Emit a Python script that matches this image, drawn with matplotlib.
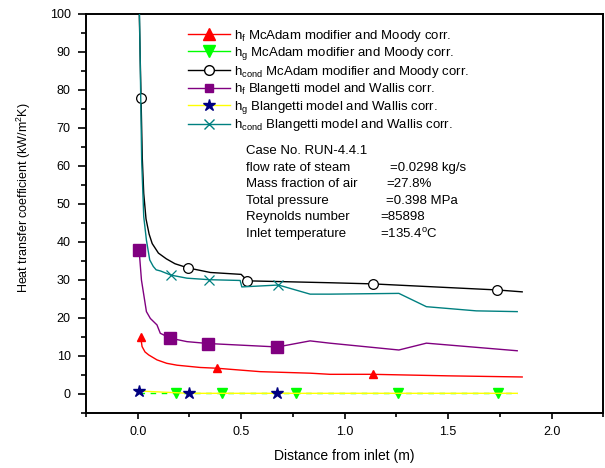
import matplotlib
matplotlib.use('Agg')
import matplotlib.pyplot as plt
from matplotlib.lines import Line2D
from matplotlib.ticker import MultipleLocator, FormatStrFormatter

plt.rcParams['font.family'] = ['Liberation Sans', 'DejaVu Sans']
plt.rcParams['mathtext.fontset'] = 'custom'
plt.rcParams['mathtext.rm'] = 'Liberation Sans'
plt.rcParams['mathtext.it'] = 'Liberation Sans:italic'

# ---------------- data ----------------
hf_mc_x = [0.0145, 0.021, 0.035, 0.053, 0.093, 0.14, 0.19, 0.302, 0.383, 0.592, 0.833, 0.929, 1.135, 1.5, 1.858]
hf_mc_y = [14.8, 12.4, 11.0, 10.2, 8.9, 8.0, 7.5, 6.9, 6.7, 5.8, 5.4, 5.1, 5.1, 4.7, 4.4]
hf_mc_marks = [0, 8, 12]

hg_mc_x = [0.007, 0.187, 0.407, 0.766, 1.26, 1.742, 1.834]
hg_mc_y = [0.2, 0.2, 0.2, 0.2, 0.2, 0.2, 0.2]
hg_mc_marks = [1, 2, 3, 4, 5]

hc_mc_x = [0.0075, 0.016, 0.022, 0.029, 0.04, 0.055, 0.07, 0.1, 0.138, 0.18, 0.243, 0.351, 0.5, 0.53, 0.929, 1.135, 1.738, 1.858]
hc_mc_y = [100, 77.9, 62, 52.7, 46, 42, 39.5, 37, 35.5, 34.2, 33.1, 31.9, 31.4, 29.7, 29.2, 28.9, 27.3, 26.8]
hc_mc_marks = [1, 10, 13, 15, 16]

hf_bl_x = [0.0067, 0.018, 0.042, 0.061, 0.093, 0.109, 0.158, 0.238, 0.342, 0.675, 0.833, 0.928, 1.262, 1.395, 1.834]
hf_bl_y = [37.8, 29.9, 21.6, 19.8, 18.1, 15.9, 14.6, 13.7, 13.2, 12.3, 13.9, 13.3, 11.5, 13.3, 11.3]
hf_bl_marks = [0, 6, 8, 9]

hg_bl_x = [0.007, 0.249, 0.675, 1.0, 1.834]
hg_bl_y = [0.7, 0.1, 0.1, 0.1, 0.1]
hg_bl_marks = [0, 1, 2]

hc_bl_x = [0.0085, 0.019, 0.029, 0.042, 0.058, 0.075, 0.089, 0.11, 0.161, 0.238, 0.346, 0.495, 0.503, 0.68, 0.833, 0.929, 1.262, 1.395, 1.636, 1.834]
hc_bl_y = [100, 61.5, 46.6, 40.4, 35.2, 33.5, 32.6, 32.3, 31.2, 30.4, 30.0, 29.8, 28.1, 28.6, 26.2, 26.2, 26.4, 22.9, 21.8, 21.6]
hc_bl_marks = [8, 10, 13]

labels = [
    r'h$_\mathregular{f}$ McAdam modifier and Moody corr.',
    r'h$_\mathregular{g}$ McAdam modifier and Moody corr.',
    r'h$_\mathregular{cond}$ McAdam modifier and Moody corr.',
    r'h$_\mathregular{f}$ Blangetti model and Wallis corr.',
    r'h$_\mathregular{g}$ Blangetti model and Wallis corr.',
    r'h$_\mathregular{cond}$ Blangetti model and Wallis corr.',
]

info_left = ['Case No. RUN-4.4.1', 'flow rate of steam', 'Mass fraction of air',
             'Total pressure', 'Reynolds number', 'Inlet temperature']
info_right = ['', '=0.0298 kg/s', '=27.8%', '=0.398 MPa', '=85898', r'=135.4$^\mathregular{o}$C']

# ---------------- figure ----------------
W, H = 605, 468
fig = plt.figure(figsize=(W / 100, H / 100), dpi=100)
L, R, T, B = 86, 603.3, 13.7, 412.7
ax = fig.add_axes([L / W, 1 - B / H, (R - L) / W, (B - T) / H])

red, green, black, purple, yellow, teal, navy = '#FF0000', '#00FF00', '#000000', '#800080', '#FFFF00', '#008080', '#000080'

ax.plot(hg_bl_x, hg_bl_y, color=yellow, lw=1.0, marker='*', ms=9, mfc=navy, mec=navy,
        markevery=hg_bl_marks, zorder=3)
ax.plot(hg_mc_x, hg_mc_y, color=green, lw=1.0, ls=(0, (4, 4)), marker='v', ms=6.5, mfc=green, mec=green,
        markevery=hg_mc_marks, zorder=2)
ax.plot(hf_mc_x, hf_mc_y, color=red, lw=1.0, marker='^', ms=5.5, mfc=red, mec=red,
        markevery=hf_mc_marks, zorder=3)
ax.plot(hf_bl_x, hf_bl_y, color=purple, lw=1.0, marker='s', ms=9, mfc=purple, mec=purple,
        markevery=hf_bl_marks, zorder=3)
ax.plot(hc_mc_x, hc_mc_y, color=black, lw=1.0, marker='o', ms=7, mfc='white', mec=black, mew=0.9,
        markevery=hc_mc_marks, zorder=3)
ax.plot(hc_bl_x, hc_bl_y, color=teal, lw=1.0, marker='x', ms=7, mec=teal, mew=0.9,
        markevery=hc_bl_marks, zorder=4)

ax.set_xlim(-0.25, 2.25)
ax.set_ylim(-5, 100)
ax.xaxis.set_major_locator(MultipleLocator(0.5))
ax.xaxis.set_minor_locator(MultipleLocator(0.25))
ax.yaxis.set_major_locator(MultipleLocator(10))
ax.yaxis.set_minor_locator(MultipleLocator(5))
ax.xaxis.set_major_formatter(FormatStrFormatter('%.1f'))
for s in ax.spines.values():
    s.set_linewidth(1.4)
ax.tick_params(which='both', direction='out', width=1.2, labelsize=9, top=False, right=False)
ax.tick_params(axis='y', which='major', length=6, pad=5)
ax.tick_params(axis='y', which='minor', length=3.5)
ax.tick_params(axis='x', which='major', length=4.5, pad=5)
ax.tick_params(axis='x', which='minor', length=3)

ax.set_xlabel('Distance from inlet (m)', fontsize=10, labelpad=8)
ax.set_ylabel(r'Heat transfer coefficient (kW/m$^\mathregular{2}$K)', fontsize=9)
ax.yaxis.set_label_coords(-0.103, 0.54)

handles = [
    Line2D([], [], color=red, lw=1.0, marker='^', ms=8, mfc=red, mec=red),
    Line2D([], [], color=green, lw=1.0, marker='v', ms=8, mfc=green, mec=green),
    Line2D([], [], color=black, lw=1.0, marker='o', ms=7, mfc='white', mec=black),
    Line2D([], [], color=purple, lw=1.0, marker='s', ms=6, mfc=purple, mec=purple),
    Line2D([], [], color=yellow, lw=1.0, marker='*', ms=9, mfc=navy, mec=navy),
    Line2D([], [], color=teal, lw=1.0, marker='x', ms=7, mec=teal),
]
leg = ax.legend(handles, labels, loc='upper left', bbox_to_anchor=(188 / W, 1 - 27.5 / H),
                bbox_transform=fig.transFigure, frameon=False, fontsize=9.5,
                handlelength=3.2, handletextpad=0.3, labelspacing=0.12, borderpad=0, borderaxespad=0)

ys = [151, 167.6, 184.2, 200.8, 217.4, 234]
rx = [None, 390, 386.7, 386, 380, 380]
for i in range(6):
    fig.text(246 / W, 1 - ys[i] / H, info_left[i], fontsize=9.5, va='center', ha='left')
    if info_right[i]:
        fig.text(rx[i] / W, 1 - ys[i] / H, info_right[i], fontsize=9.5, va='center', ha='left')

fig.savefig('out.png', dpi=100)
